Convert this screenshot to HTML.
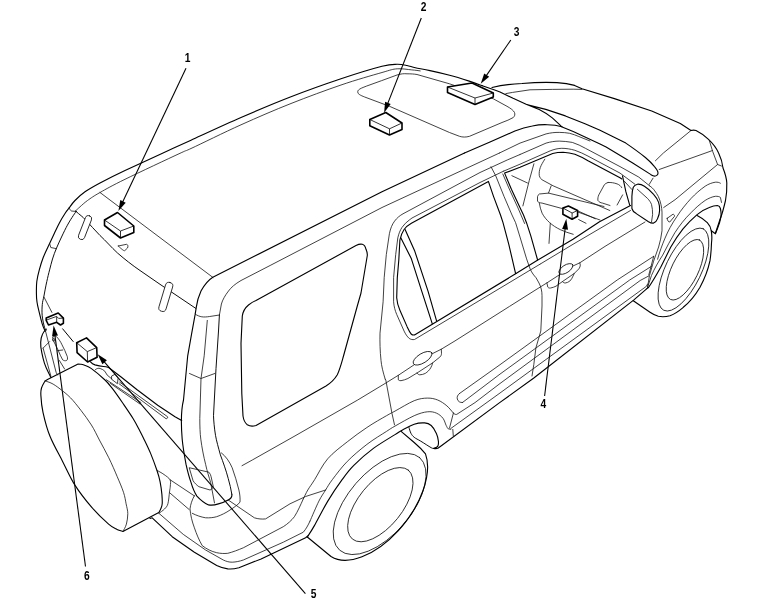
<!DOCTYPE html>
<html><head><meta charset="utf-8"><title>Component locations</title>
<style>
html,body{margin:0;padding:0;background:#fff;}
svg{display:block;position:absolute;left:0;top:0;will-change:transform;}
.k{fill:none;stroke:#000;stroke-width:1.12;stroke-linecap:round;stroke-linejoin:round;}
.m{fill:none;stroke:#000;stroke-width:0.95;stroke-linecap:round;stroke-linejoin:round;}
.t{fill:none;stroke:#111;stroke-width:0.8;stroke-linecap:round;stroke-linejoin:round;}
.b{fill:#fff;stroke:#000;stroke-width:1.6;stroke-linejoin:round;}
.bt{fill:none;stroke:#000;stroke-width:0.8;stroke-linejoin:round;}
.a{fill:none;stroke:#000;stroke-width:1.08;}
.h{fill:#000;stroke:none;}
text{font-family:"Liberation Sans",sans-serif;font-weight:bold;font-size:12.8px;fill:#000;}
</style></head><body>
<svg width="765" height="611" viewBox="0 0 765 611">
<!-- ROOF -->
<g id="roof">
<path class="k" d="M69.5,207.5 C70.4,206.3 72.4,203.1 75.0,200.5 C77.6,197.9 80.8,194.7 85.0,191.8 C89.2,188.9 93.3,186.6 100.0,183.0 C106.7,179.4 114.6,175.4 125.0,170.5 C135.4,165.6 151.5,158.4 162.5,153.3 C173.5,148.2 177.9,146.2 191.0,140.2 C204.1,134.2 224.3,124.7 241.0,117.5 C257.7,110.3 274.3,103.2 291.0,96.8 C307.7,90.3 325.8,83.9 341.0,78.8 C356.2,73.7 372.7,68.7 382.0,66.3 C391.3,63.9 392.8,64.4 397.0,64.3 C401.2,64.2 403.9,64.9 407.0,65.5 C410.1,66.1 411.6,67.0 415.4,67.8 C419.2,68.6 424.3,69.3 430.0,70.6 C435.7,71.8 443.1,73.5 449.6,75.3 C456.1,77.0 463.8,79.4 469.2,81.1 C474.6,82.8 480.1,84.9 482.3,85.7"/>
<path class="t" d="M75.5,211.0 C76.2,210.3 78.0,208.6 80.0,206.8 C82.0,205.1 84.2,202.9 87.5,200.5 C90.8,198.1 93.8,196.0 100.0,192.5 C106.2,189.0 111.7,185.8 125.0,179.3 C138.3,172.8 169.0,158.4 180.0,153.3 C191.0,148.2 180.8,153.2 191.0,148.5 C201.2,143.8 224.3,132.3 241.0,124.8 C257.7,117.3 274.3,110.1 291.0,103.5 C307.7,96.9 325.8,90.2 341.0,85.0 C356.2,79.8 372.6,75.2 382.0,72.5 C391.4,69.8 392.2,69.2 397.2,68.8 C402.2,68.4 408.0,69.6 411.8,69.9 C415.6,70.2 418.8,70.7 420.2,70.9"/>
<path class="t" d="M69.1,207.4 C69.8,209.5 70.5,210.6 71.5,211 L76.5,211.5"/>
<path class="t" d="M100,192.5 L213,277.5"/>
</g>

<!-- REAR -->
<g id="rear">
<path class="k" d="M69.5,207.5 C68.8,208.5 66.7,210.9 65.0,213.5 C63.3,216.1 61.1,219.7 59.4,222.9 C57.6,226.2 56.1,229.6 54.5,233.0 C52.9,236.4 51.5,239.4 49.6,243.5 C47.7,247.6 45.0,252.9 43.3,257.3 C41.6,261.7 40.4,265.9 39.3,269.9 C38.2,273.9 37.3,277.7 36.8,281.5 C36.3,285.3 36.4,289.5 36.4,292.9 C36.4,296.3 36.6,299.1 37.0,302.0 C37.4,304.9 37.8,306.5 38.7,310.1 C39.6,313.7 41.1,320.2 42.2,323.8 C43.3,327.4 44.8,330.2 45.3,331.5"/>
<path class="m" d="M76.2,211.3 C75.5,212.3 73.5,215.2 72.0,217.5 C70.5,219.8 69.1,222.1 67.4,225.2 C65.7,228.3 63.8,232.2 62.0,236.0 C60.2,239.8 58.1,244.3 56.5,248.1 C54.9,251.9 53.6,255.4 52.5,259.0 C51.4,262.6 50.6,266.1 49.6,269.9 C48.6,273.6 47.8,277.1 46.8,281.5 C45.8,285.9 44.6,292.5 43.9,296.3 C43.1,300.1 42.6,301.1 42.3,304.4 C42.0,307.6 41.8,312.0 42.2,315.8 C42.6,319.6 43.8,324.9 44.5,327.3 C45.2,329.7 46.0,329.6 46.3,330.0"/>
<path class="t" d="M49.6,243.5 L50.8,247.5 L56.5,248.7"/>
<path class="t" d="M43.9,296.9 L51.9,312.4"/>
<path class="m" d="M75.5,211 C80,215 83,217 85,219.3 C90,225 95,230 100,235.5 C106,241 111,247 117.5,253 C125,259.5 132,265 140,270.5 L160,284.3 L195.8,308.4"/>
<!-- wipers/stops -->
<rect class="t" x="-3.2" y="-12.6" width="6.4" height="25.2" rx="3.1" transform="translate(85,227.6) rotate(21.3)" style="fill:#fff"/>
<rect class="t" x="-3.7" y="-15" width="7.4" height="30" rx="3.6" transform="translate(165.8,296.9) rotate(16.7)" style="fill:#fff"/>
<path class="t" d="M118.3,246 L126.5,244.3 C128,244.5 128.3,246.5 127.5,248 L124.8,250.6 C124,251 122.5,250 118.3,246 Z"/>
<!-- near roof edge + tailgate pillar -->
<path class="k" d="M464.5,153 L382,191.8 L212.8,277.3 C207,281 203.4,286.7 201,291 C198.7,296 197,302 196.3,307.1 L195.2,314.2 L191.6,333.8 L187.7,355.8 L183.5,400 C181,410 181,425 182.2,439.2 C183,448 184.5,456 186.1,464.7 C187.5,471 189,477 191,482.4 C192.5,487.5 194.5,492.5 196.9,496.1 C200,499.5 204,503 208.6,504.9 C212,505.5 215,505 218.4,503.9 C222,503 225.5,501.5 228.2,500 C231,498.5 232.3,496.5 231.8,494.1"/>
<path class="m" d="M231.8,494.1 C231,489 229.8,484 228.2,478.4 C226,470 223,462 220.4,454.9 C218.5,448 216.5,441 215.5,435.3 C214.3,428 213.7,421 213.5,415.7 L214,406 L216,368.5 L218.5,331 L219.4,315"/>
<path class="t" d="M499.5,153 L382,207.5 L270.1,265.5 L241,280.5 C235,284 231,287.5 228.5,291 C225,295.5 222.5,300 221.4,304 L219.4,315"/>
<path class="t" d="M195.2,314.2 C197.5,315.5 199.5,316.5 201.8,316.8 C204,317.2 207,316.9 209.7,316.5 L219.4,315"/>
<path class="t" d="M207.3,320.4 L204.2,355.8 L201,378.5 L199.8,418.5 C199.8,426 200,433 200.8,439.2 C202,448 203.5,456 205.7,464.7 C207,471 209,477 210.6,482.4 L214.5,502.9"/>
<path class="t" d="M189.5,373.5 L201,378.5 L214.8,373.5"/>
<!-- quarter window -->
<path class="k" d="M256,300.5 L356,245.5 C358.5,244.3 360.5,243.8 362.3,244.3 C364.5,245 365.5,247 366,249.3 C367,251.5 367.5,253.5 367.3,255.5 L361,293 L357.3,306 L343.5,356 C341.5,363 340,369 337.3,374.8 C334.5,379.5 331,383 326,386 L256,425.5 C253,426.5 250,426.5 247.3,424.8 C244.5,422.5 243.5,419.5 243,416 L241.8,393.5 L241,343.5 L242.3,316 C243,311 245.5,307.5 248.5,305 C251,303 253.5,301.5 256,300.5 Z"/>
</g>

<!-- ROOF FRONT / SUNROOF / HOOD -->
<g id="front">
<path class="k" d="M482.3,85.7 L495.4,90.3 L500,92 L513.1,98.3 L526.1,104.2 C528.5,105 530.5,105.6 532.7,106.1 L545.8,109.4 L565.4,115.9 L585,123.8 L600,130.3 L625.8,143.1 C633,148 639.5,152.7 645.4,157.5 C649,160.5 652,163.5 654.5,166.6 C656,168.3 657.2,170 657.8,171.8 C658.2,173.3 658,174.4 657.1,175.1 C656,176 655,176.3 653.9,176 C652.8,175.6 651.8,175.1 650.6,174.4 L632.3,162.7 L606.1,147 L600,144.1 L585,136.9 L573.2,131.6 L562.1,127.1 L558.8,123.8 L552.3,117.9 C548,114.5 544,111.7 539.2,109.4 L526.1,104.2"/>
<path class="k" d="M464.5,153 L490,142.1 L514.9,131 C521,128.5 526,127 532.3,126 C537,125 542,124.5 547.2,124.7 C552,124.8 557,125.3 562.1,126.7"/>
<path class="t" d="M499.5,153 L520,143.1 L546.1,133.9 C550.5,132.8 555,132.3 559.2,132.4 C563,132.4 566.5,132.7 569.7,133.3 C573,134.2 576,135.3 578.8,136.5 L590,141"/>
<path class="t" d="M520,154.5 L546.1,143.1 C550.5,141.8 555,141.1 559.2,141.1 C563.5,141.2 568,141.6 572.3,142.4 C577,144 581.5,146 585.4,148.3 L620,166.6 L638.8,177.1 L649.3,185.6"/>
<!-- sunroof -->
<path class="t" d="M382,80.5 L397,75 C401,73.8 404,73.5 407,73.8 C411,73.8 414,74 417,74.5 L449.5,83.8 L493.3,98.8 L507,106.3 C511,108.5 513.5,110.5 514.5,112.5 C515.2,114.5 514.8,116 513.3,117.5 C510,119.5 506,121 502,122.5 L469.5,136.3 C466,137.3 462.5,137.3 459.5,136.3 L449.5,132.5 L389.5,106.3 L366,97.5 C362,96 358.5,94.5 358,93 C357.5,91.5 357.8,90.8 358.5,90 C360,88.5 363,87.5 366,86.3 Z"/>
<!-- hood far edge -->
<path class="k" d="M492,87.5 C502,85 512,84 522,83.5 C535,82.3 545,82 557,82.6 C565,83 570,84 574.6,85.4 L582,88.7 L614.4,98.6 L651.7,111 L680.3,123.5 L691,130.5"/>
<path class="t" d="M505.8,93.6 C510,92.8 515,92 520,91.3 L530,89.8 L552.3,89.4 L573.2,89.2 L582,89.4"/>
<path class="k" d="M691,130.5 C693,130 695,130.2 696,130.5 C701,133 705,136 708.5,139.3 C713,143.5 716.5,148 718.6,153 C721,158 722.5,163 723,168 C725,173 726.5,178 726.8,183 C727,189 726.5,195 725.5,200.5 C724,207 722.5,213 720.5,218 L715.5,233"/>
<path class="t" d="M691,130.5 L663.4,153 L655.4,160.8"/>
<path class="t" d="M709.4,140.8 L712.7,151.5 L717.6,164.5 L721.5,166"/>
<path class="t" d="M712.3,150.6 L680.3,162 L659.2,169.5"/>
</g>

<!-- BOXES, ARROWS, LABELS -->
<g id="callouts">
<!-- box1 -->
<path class="b" d="M104.5,220 L117.5,212.5 L133.8,226 L133.8,232.5 L120.5,238 L104.5,225.5 Z"/>
<path class="bt" d="M104.5,220 L120.5,231 L133.8,226 M120.5,231 L120.5,238"/>
<!-- box2 -->
<path class="b" d="M369.8,119.5 L385.8,112.5 L402,123 L402,129.5 L389.5,135 L369.8,125.8 Z"/>
<path class="bt" d="M369.8,119.5 L389.5,128.8 L402,123 M389.5,128.8 L389.5,135"/>
<!-- box3 -->
<path class="b" d="M447.5,87 L472,83 L493.3,93 L493.3,97 L475,104.5 L447.5,92.5 Z"/>
<path class="bt" d="M447.5,87 L475,98 L493.3,93 M475,98 L475,104.5"/>
<!-- box4 -->
<path class="b" d="M562.9,208 L568.4,206 L577.6,210.5 L577.6,216.3 L572.1,219.3 L562.9,214.3 Z"/>
<path class="bt" d="M562.9,208 L572.1,213 L577.6,210.5 M572.1,213 L572.1,219.3"/>
<!-- box5 -->
<path class="b" d="M76.7,342.7 L86.5,337.9 L96.7,347.6 L97.1,357.3 L87.6,362 L77.1,352.7 Z"/>
<path class="bt" d="M76.7,342.7 L87.3,351.6 L96.7,347.6 M87.3,351.6 L87.6,362"/>
<!-- box6 -->
<path class="b" d="M46.2,318.1 L58.2,313 L63.4,318.1 L63.4,323.3 L60.5,325 L56.7,322.3 L48.5,325 L46.2,320.4 Z"/>
<path class="bt" d="M46.6,320 L56.6,316.4 L58.6,318.4 L63.4,318.1 M56.7,316.6 L56.7,322.3"/>
<!-- arrows -->
<path class="a" d="M186,68.3 L121.0,205.5"/>
<path class="h" d="M118.4,211.0 L120.3,200.1 L125.7,202.7 Z"/>
<path class="a" d="M421.3,18 L386.3,107.1"/>
<path class="h" d="M384.1,112.7 L385.1,101.7 L390.7,103.9 Z"/>
<path class="a" d="M510.8,40 L484.1,78.9"/>
<path class="h" d="M480.7,83.8 L484.2,73.4 L489.2,76.8 Z"/>
<path class="a" d="M544.6,396 L565.6,224.8"/>
<path class="h" d="M566.3,218.8 L568.0,229.7 L562.1,229.0 Z"/>
<path class="a" d="M305.4,593.7 L101.7,358.8"/>
<path class="h" d="M97.7,354.3 L106.9,360.3 L102.4,364.3 Z"/>
<path class="a" d="M85.5,566.5 L54.4,331.4"/>
<path class="h" d="M53.6,325.4 L58.0,335.5 L52.1,336.3 Z"/>
<path class="a" d="M62.4,328.5 L73.4,341.8" style="stroke-width:1"/>
<text transform="translate(187.6,61.6) scale(0.8,1)" text-anchor="middle">1</text>
<text transform="translate(423.6,10.8) scale(0.8,1)" text-anchor="middle">2</text>
<text transform="translate(516.5,36.3) scale(0.8,1)" text-anchor="middle">3</text>
<text transform="translate(543.3,407.5) scale(0.8,1)" text-anchor="middle">4</text>
<text transform="translate(313.5,597.6) scale(0.8,1)" text-anchor="middle">5</text>
<text transform="translate(86.8,579.8) scale(0.8,1)" text-anchor="middle">6</text>
</g>

<!-- SIDE BODY / DOORS -->
<g id="side">
<!-- door outer frame thin (line 3) -->
<path class="t" d="M385.2,379.2 C383,372 381.5,366 381,360.4 C380,351 379.8,342 380,333.2 L383.1,301.8 L384.2,277.6 L386.3,254.6 L389.4,233.7 C390.5,228.5 392,224.5 394.6,221.1 C397,217.8 400,215.5 403,213.8 L480,172.5 L507.2,160 L520,154.5"/>
<path class="t" d="M385.2,379.2 L385.8,380 L392,413.5 L394.5,424.8"/>
<!-- rear door frame outer thin -->
<path class="t" d="M540,264.2 L414.5,339.5 C412.5,339.8 411,339.5 409.3,338.5 C407,336.5 405.5,334 404.1,331.1 L396.7,314.4 C395,310.5 394,306.5 393.6,301.8 L393.6,277.6 L395.7,254.6 L397.8,237.9 C398.8,233.5 400,230.5 402,227.4 C404,224.5 406.5,222 409.3,220 L412,218 L480,182.5 L503.7,171.1"/>
<!-- rear door window thick -->
<path class="k" d="M516,273.6 L414.5,334.9 C413.3,335.2 412.3,335 411.4,334.3 C409.8,332.2 408.5,329.7 407.2,326.9 L399.9,310.2 C398,306 397,302 396.7,297.7 L397.3,277.6 L398.8,260 L399.9,240 C400.8,235.8 402,232.5 404.1,229.5 C406,226.8 408.5,224.8 411.4,223.2 L488.4,181.4 L493.6,196.6 L500.5,215 L503,222.7 L508.8,244.3 L515.6,273.6"/>
<path class="k" d="M400.9,237.9 L411.4,258.8 L421.8,291.4 L432.3,323.8"/>
<path class="k" d="M405.1,229.5 L414.5,250.4 L428.1,291.4 L436.5,320.7"/>
<!-- B pillar -->
<path class="t" d="M491,166.8 L495.7,175.7 L504.1,196.6 L512,215 L515.6,222.7 L520.3,238 L526.6,258.9 L530.3,269.4 C532,273 534,275.5 536,277.7 L539,283 C541,287 542,291 542,295.5 L542,306 L540.8,331 L535.9,347.9 L533.8,364.6 L532,376"/>
<!-- beltline -->
<path class="k" d="M516,273.6 L537,260.5 L573,239.3 L599.5,221.7 L630.5,205.6"/>
<path class="t" d="M540,264.2 L573,244.3 L630.5,210.5"/>
<!-- crease -->
<path class="t" d="M242,465.7 L252.3,460 L295,435.9 L357.7,400 L385,383.5 L398.3,375.3 L414.3,364.7 M432.1,353.8 L441.3,349.2 L455,340.9 L509.5,306.4 L535,290.3 L546.9,282.9 L560.2,274.3 M573,266 L579.8,262.8 L605,246.4 L645,222"/>
<!-- front door window thick -->
<path class="k" d="M537.6,260 L530.8,235.9 L526.5,222.7 L523.5,215 L519.7,207.1 L511.4,189.3 L504.6,173.1 L520,167.3 L552.7,153.5 C556,152.6 559.5,152.2 563.1,152.2 C567,152.4 571,153 574.9,154.2 C579.5,156 584,158.2 588,160.7 L620,177.7 L621.8,179"/>
<path class="k" d="M622.5,175.8 L625.8,191.4 L629.7,205.2"/>
<path class="t" d="M502.8,174 L509.8,190.2 L518,208 L524.6,223.5"/>
<!-- rear door handle -->
<path class="t" d="M398.3,375.3 L398.3,379.8 C399,380.5 400,380.8 401,380.7 C403.5,380.3 405.5,379.5 407.9,378.5 L417,373 L432.6,362.9 L439.9,357 C441,356 441.5,354.8 441.5,353.3 L441.3,349.2"/>
<ellipse class="t" cx="422.6" cy="358.2" rx="10.7" ry="4.7" transform="rotate(-31.5 422.6 358.2)"/>
<path class="t" d="M417,373 C418,374.5 419,374.8 419.8,374.8 C421.5,374.8 423.5,374.3 425.3,373.4 C427.5,372 429.5,370 430.7,367.9 C431.7,366.3 432.3,364.5 432.6,362.9"/>
<!-- molding -->
<path class="t" d="M459.5,393.5 L500,364.7 L617.2,280 L653.7,256.3 M462.5,402.5 L500,374.1 L629.7,280 L651.8,266.1 M459.5,393.5 C457.5,395 456.8,397 457.3,399 C458,401.5 460,402.8 462.5,402.5"/>
<path class="t" d="M453.4,413.1 C454.5,414.3 455.5,414.6 456.7,414.4 L475,402.6 L500,383.5 L640.2,280.5 L648.8,275.9"/>
<path class="t" d="M450.8,428.5 L500,393 L646.4,286.3 L647.6,284"/>
<path class="k" d="M433.8,448.4 C435.5,448.9 437,448.7 438.3,448 L500,402.4 L533.5,378.3 L633.9,299.9 L646.9,288.6"/>
<path class="t" d="M452.8,429.4 L453.3,436"/>
</g>

<!-- WHEELS / ARCHES -->
<g id="wheels">
<!-- rear wheel -->
<ellipse class="t" cx="379.7" cy="503.9" rx="61.2" ry="31.4" transform="rotate(-49.2 379.7 503.9)"/>
<ellipse class="t" cx="380.4" cy="504.6" rx="44.4" ry="22" transform="rotate(-51 380.4 504.6)"/>
<path class="k" d="M401.1,431.4 L414.2,442.5 C418,445.7 421.5,449 425.5,453.9 A71.6,39.6 -51.7 0 1 331,556.5 L307.3,537"/>
<!-- rear arch -->
<path class="t" d="M303.3,498.9 C304.1,497.4 305.9,493.2 307.8,490.0 C309.7,486.8 311.3,484.9 314.6,479.7 C317.9,474.5 322.2,465.1 327.7,458.8 C333.1,452.5 340.8,447.0 347.3,441.8 C353.8,436.6 360.4,431.9 366.9,427.5 C373.4,423.1 381.8,418.4 386.5,415.7 C391.2,413.0 390.4,413.6 395.0,411.1 C399.6,408.6 408.8,402.9 414.2,400.7 C419.6,398.5 423.4,398.2 427.3,398.1 C431.2,398.0 434.4,398.7 437.7,400.0 C441.0,401.3 444.3,403.7 446.9,405.9 C449.5,408.1 452.3,411.9 453.4,413.1"/>
<path class="t" d="M310.0,521.1 C311.5,517.8 316.3,506.3 318.9,501.1 C321.5,495.9 323.4,493.6 325.6,490.0 C327.8,486.4 328.7,484.5 332.3,479.7 C335.9,474.9 341.5,467.3 347.3,461.4 C353.1,455.5 360.4,449.4 366.9,444.4 C373.4,439.4 381.8,434.4 386.5,431.4 C391.2,428.3 390.4,428.7 395.0,426.1 C399.6,423.5 408.8,418.1 414.2,415.7 C419.6,413.3 423.6,412.2 427.3,411.8 C431.0,411.4 433.8,412.0 436.4,413.1 C439.0,414.2 441.4,416.2 443.0,418.3 C444.6,420.4 445.3,423.8 446.2,425.5 C447.1,427.2 447.4,428.2 448.2,428.8 C449.0,429.4 450.4,429.1 450.8,429.2"/>
<path class="t" d="M449.5,428.1 L453.4,413.1"/>
<path class="k" d="M307.3,537.0 C308.5,535.1 311.0,531.6 314.4,525.6 C317.8,519.6 323.2,508.8 327.8,501.1 C332.4,493.5 337.8,485.6 342.1,479.7 C346.4,473.8 348.6,470.6 353.8,465.4 C359.0,460.2 366.5,453.5 373.4,448.4 C380.3,443.3 390.4,437.5 395.0,434.6 C399.6,431.7 397.9,432.5 401.1,430.8 C404.3,429.1 410.3,425.5 414.2,424.2 C418.1,422.9 421.9,422.7 424.7,422.9 C427.5,423.1 429.2,423.8 431.2,425.5 C433.1,427.2 435.2,430.8 436.4,433.4 C437.6,436.0 438.2,439.0 438.4,441.2 C438.6,443.4 438.5,445.2 437.7,446.4 C436.9,447.6 434.4,448.1 433.8,448.4"/>
<path class="m" d="M409.0,427.5 C409.3,428.5 410.1,431.8 411.0,433.4 C411.9,435.0 412.6,436.0 414.2,437.3 C415.8,438.6 418.0,439.5 420.8,441.2 C423.6,442.9 429.0,446.5 431.2,447.7 C433.4,448.9 433.4,448.3 433.8,448.4"/>
<!-- front wheel -->
<ellipse class="t" cx="683.5" cy="269.5" rx="45.3" ry="17.9" transform="rotate(-64.2 683.5 269.5)"/>
<ellipse class="t" cx="685" cy="269.7" rx="33.1" ry="13.3" transform="rotate(-64 685 269.7)"/>
<path class="k" d="M697.1,215.6 C701,217.5 704.5,220 707.3,222.7 C709.5,225 710.8,227.8 711.3,230.8 C712,235 712,239 711.5,243 C711.3,249 710.8,255 710,260.7 C708,270 704.5,279 700,287.3 C695.5,295 690,302 683.3,307.3 C679,311 674.5,314 670,315.7 C666,316.8 662,317 658.3,316.3 C655,315.5 652.5,314 650,312.3 L633.3,300.7"/>
<!-- front arch -->
<path class="t" d="M657.6,259.2 C659.5,252 662,245.5 664.7,238.9 C668,231 672,223.5 676.9,216.6 C681,210 686,204 691.1,198.4 C695.5,193.8 700,189.8 705.2,186.2 C708.5,184 712,182.7 715.4,182.2 C717.5,182 719.3,182.5 720.4,183.2"/>
<path class="t" d="M647.5,287.5 L651.5,275.4 C654.5,268.5 658.5,261.5 662.7,255.1 C666.5,247.5 670.5,240 674.8,232.8 C679.5,225.5 685,218.5 691.1,212.6 C695.5,208 700,204 705.2,200.4 C708.5,198.3 712,196.8 715.4,196.3 C717.5,196.2 719.3,196.5 720.4,197.4 L721.5,202.4"/>
<path class="k" d="M646.9,288.6 L648.5,287.5 C653,281 657,274 660.7,267.3 L670.8,247 C674.5,240.5 678.5,234.5 683,228.8 C687.5,223.5 692,219 697.1,214.6 C701,211.5 705,209 709.3,207.5 C712,206.3 714.8,205.5 717.4,205.5 C719,205.8 720,207 720.4,208.5 C721,211 721.2,213.8 721,216.6 C720.2,220.8 719,225 717.4,228.8 L715.4,233.8 L711.3,230.8"/>
</g>

<!-- SPARE TIRE / BUMPER / TAIL -->
<g id="rearlow">
<path class="k" d="M122.9,531.5 C121.9,531.1 119.4,530.6 117.0,529.4 C114.6,528.2 112.8,527.8 108.6,524.1 C104.4,520.4 97.4,513.9 91.8,507.4 C86.2,500.9 80.0,493.1 75.1,485.4 C70.2,477.7 66.8,469.6 62.6,461.4 C58.4,453.2 53.3,444.5 50.0,436.3 C46.7,428.1 44.5,419.1 43.0,412.3 C41.5,405.5 41.1,399.7 40.9,395.6 C40.6,391.6 40.8,390.4 41.5,388.0 C42.2,385.6 44.5,382.1 45.1,380.9 L47.5,379.5 L78.1,364.1 C78.5,364.1 79.7,364.1 80.7,364.2 C81.7,364.3 82.3,364.3 84.0,365.0 C85.7,365.7 87.6,365.9 91.1,368.4 C94.6,370.9 101.5,376.7 105.0,380.0 C108.5,383.3 109.3,384.6 112.3,388.4 C115.2,392.2 119.2,397.9 122.7,403.0 C126.2,408.1 130.3,414.0 133.2,418.7 C136.1,423.4 138.1,427.6 140.0,431.2 C141.9,434.8 142.6,436.3 144.4,440.0 C146.2,443.7 148.6,448.6 150.7,453.6 C152.8,458.7 155.3,465.6 156.9,470.3 C158.5,475.0 159.3,477.8 160.1,481.8 C160.9,485.8 161.6,490.7 161.9,494.4 C162.2,498.1 162.4,501.4 162.2,503.8 C162.0,506.2 161.5,507.0 160.9,508.5 C160.3,510.0 159.2,511.9 158.8,512.6 L122.9,531.5"/>
<path class="t" d="M45.1,380.9 C46.2,381.3 49.5,382.2 52.0,383.5 C54.5,384.8 56.9,386.5 60.0,388.9 C63.1,391.3 67.0,394.2 70.5,397.8 C74.0,401.4 77.4,405.8 80.9,410.3 C84.4,414.8 88.3,420.1 91.4,425.0 C94.5,429.9 96.5,434.5 99.4,440.0 C102.3,445.5 105.8,451.7 108.8,457.8 C111.8,463.9 114.8,470.9 117.2,476.6 C119.7,482.4 122.0,487.8 123.5,492.3 C125.0,496.8 125.4,500.2 126.1,503.8 C126.8,507.4 127.8,510.3 127.8,513.7 C127.8,517.1 127.2,521.1 126.4,524.1 C125.6,527.1 123.5,530.3 122.9,531.5"/>
<!-- curve right of tread -->
<path class="t" d="M156.9,470.3 C158.1,471.0 161.8,472.9 164.0,474.5 C166.2,476.1 168.9,477.8 170.0,479.7 C171.1,481.6 170.4,483.9 170.3,486.0 C170.2,488.1 169.9,489.0 169.5,492.0 C169.1,495.0 168.7,501.0 167.9,503.8 C167.1,506.6 166.0,507.4 164.5,509.0 C163.0,510.6 159.8,512.6 158.9,513.3"/>
<path class="t" d="M170,479.7 L194.4,495.9 M169.7,492.8 L189.1,509.5"/>
<!-- bumper -->
<path class="k" d="M150,518.5 L152.2,517.8 L172.2,536.7 L194.4,552.2 L216.7,565.6 C220.5,567.5 224,568.5 227.8,568.9 C231.5,569.2 235,568.8 238.9,567.8 L261.1,558.9 L305.6,537.8 L308.2,535.6"/>
<path class="t" d="M158.9,513.3 L183.3,534.4 L205.6,550 L223.3,560 C226.5,561.5 229,562.2 232.2,562.2 C236,562 239.5,561.3 243.3,560 L283.3,542.2 L303.3,532.2 C306,529 308,525.5 310,521.1"/>
<path class="t" d="M194.4,495.6 C192,500 190.5,504.5 190,508.9 C190.5,515 192,521.5 194.4,527.8 C196.5,534 199,540 202.2,545.6 C206.5,549 211.5,551.5 216.7,552.7 C220.5,553.5 224,553.7 227.8,553.3 C233,552 238,550 243.3,547.8 L283.3,526.7 C287.5,524 291.5,520.5 294.4,516.7 C298,511 300.5,505 303.3,498.9"/>
<path class="t" d="M192.2,513.3 C196.5,515.5 201,517 205.6,517.8 C209.5,518 213,517.7 216.7,516.7 C221.5,515 226,512.8 230,510 C234,507.5 237.5,505 240,502.2 C240.3,498 239.8,494 238.9,490 C237,482.5 234.8,475 232.2,467.8 C229.5,461.5 225.5,456 221.4,452.9"/>
<path class="t" d="M228.2,500 L254.4,517.8 C258,519 262,519.3 265.6,518.9 L290,503.8 L305.6,496.5 L325.6,490"/>
<!-- reflector -->
<path class="t" d="M189.6,467.8 L208.9,472.2 C210,473.5 210.8,475 211.1,476.7 L213.3,486.7 C212.5,488.5 211.5,489.5 210,490 L198.9,486.7 C196.5,485 194.5,483 193.3,481.1 Z"/>
<!-- rear window bottom + wiper -->
<path class="k" d="M181.7,420.5 L175,416.7 L157.7,405.2 L136.8,389.5 L121.1,377 L108.6,367.5 C106.5,366.8 105,366.6 103.4,366.5 C100.5,366.3 98,365.8 95,364.9 C93,364.2 91.5,363 90.5,361.8"/>
</g>

<!-- TAIL LIGHT / WIPER -->
<g id="tail">
<path class="k" d="M46.3,329.2 C44.5,330.8 43.2,332.5 42.4,334.4 C41.2,337 40.7,339.5 40.7,342.2 C40.5,345.7 41,349.2 41.8,352.7 C42.5,356.2 43.3,359.7 44.4,363.1 C45.5,366.3 46.8,369.3 48.3,372.3 L50.9,377.5"/>
<path class="t" d="M45.7,331.8 L56.1,372.3 L57.5,375"/>
<path class="t" d="M43.1,348.1 L50.9,376.2"/>
<path class="t" d="M43.1,348.1 L49.6,341.6"/>
<path class="t" d="M52.9,337 C54,336 55.2,335.9 56.1,336.3 C58.5,338.5 60.5,341.5 62,344.8 C64,348.5 65.8,352.5 67.3,356.6 C67.8,358.5 67.5,359.8 66.6,360.5 C65.3,361 64,360.7 62.7,359.9 C61,357 59.5,353.5 58.1,350.1 C56.5,347 55,344 53.5,340.9 C52.8,339.5 52.6,338 52.9,337 Z"/>
<path class="t" d="M57.6,350.6 L62.7,350"/>
<path class="t" d="M59.4,360.5 L64.6,369"/>
<circle class="t" cx="53.8" cy="339.8" r="1.3"/>
<!-- wiper -->
<path class="t" d="M95.4,369.6 C97,368.3 98.5,368 100.1,368.5 C102,369 103.5,370 104.8,371.2 L107.2,375.1 L111.9,379"/>
<path class="t" d="M111.9,375.9 L115,374.3 L118.1,378.2 L117.4,383.7 L111.9,379.5 Z"/>
<path class="t" d="M106.4,379.8 L140.9,402.5 M110.5,383.5 L140,404"/>
<path class="t" d="M119.7,382.2 L167.5,416.7 C168,417.7 167.3,418.8 166,418.7 L119,383.7"/>
</g>

<!-- MIRROR / INTERIOR / FENDER DETAILS -->
<g id="detail">
<!-- mirror -->
<path class="k" d="M637.4,184.2 C635.5,184.8 634,186 633.3,187.2 C632.3,190 632,193 631.9,196.3 L631.9,208.5 C632.5,210.8 634,212.5 636.3,213.6 L648.5,221.7 C650.3,222.8 652,223.3 653.6,223.1 C655.5,222.3 656.8,220.7 657.6,218.6 C658.8,216 659.5,213.3 659.6,210.5 C659.8,207.7 659.5,205 658.6,202.4 C657.5,199.3 655.8,196.7 653.6,194.3 C651,191.2 648,188.5 644.4,186.2 C642.5,185 640,184 637.4,184.2 Z" style="fill:#fff"/>
<path class="t" d="M637.4,189.3 L647.5,198.4 C649.3,200.3 650.7,202.3 651.5,204.4 C652.3,207.7 652.7,211 652.6,214.6 L651.5,222"/>
<path class="t" d="M624.2,181.1 L631.9,189.5"/>
<!-- window frame outer thin (front door) -->
<path class="t" d="M503.7,171.1 L520,164.2 L550.1,150.9 C554,149.3 558,148.4 561.8,148.3 C566,148.3 570.5,149 574.9,150.3 C579.5,152 584,153.8 588,156.1 L620,173.1 L634.9,184.2"/>
<!-- fender -->
<path class="t" d="M649.3,185.6 C652,187.5 653.5,189 654.2,190.1 C656,192.5 657.3,194.5 658.3,196.4 C659.5,199 660.4,201.8 661,204.7 C661.6,207.2 661.9,209.7 662,212.1 L662,230.8 C661.2,236.5 660.2,242 658.6,247 L653.6,261.2 L649.5,275.4 L647.5,287.5"/>
<path class="t" d="M717.6,164.5 L675.1,199.7 L663.7,207.5"/>
<path class="t" d="M667.2,218.3 L673,214.2 C674,214.3 674.6,215.2 674.5,216.3 L669.8,222 C668.5,222.3 667.3,220.5 667.2,218.3 Z"/>
<path class="t" d="M653,178.2 L649.2,184.4"/>
<path class="t" d="M653.7,256.3 L648.8,274.9"/>
<!-- interior -->
<path class="t" d="M544.8,159.2 C543,162 541.3,164.8 540.3,167.5 C539.3,170.5 539,173 539.3,175.7 C540,178 541.2,179.5 543,180.3 L553.1,185.8 L609.8,210.5"/>
<path class="t" d="M551.2,185.8 L548.5,193.1 L539.3,194 C538.3,194.7 537.7,195.6 537.5,196.7 L537.5,201.3 C538.5,202.3 540,202.9 542.1,203.1 L562,208.5"/>
<path class="t" d="M542,195.5 L608,208.5" style="display:none"/>
<path class="t" d="M548.5,193.1 L604,206.5 M577.8,212 L600,220"/>
<path class="t" d="M539.3,203.1 C539.8,206.5 540.8,210 542.1,213.2 C544,216.8 546.5,219.8 549.4,222.4 C552.5,225.3 556.2,227.7 560.4,229.7 C564.5,231.5 568.8,233.2 573.2,234.3"/>
<path class="t" d="M550.3,223.3 L549,243.4"/>
<path class="t" d="M576.9,210.5 L595.2,218.7 M578.7,219.6 L586,223.3"/>
<path class="t" d="M533.9,163.8 L529.3,180.3 L522.9,205.9"/>
<path class="t" d="M511.9,175.7 L527.5,183"/>
<path class="t" d="M608,182.5 C611,182.3 614,182.8 617.1,183.9 C619.3,184.7 620.8,186 621.7,187.6 M608,182.5 C606.5,183 605.2,183.8 604.3,184.8 L598.8,194.9 C598,196.8 597.7,198.6 597.9,200.4 C599,202 600.5,202.8 602.5,203.1 L610,205.5"/>
<path class="t" d="M617.1,205 L622.6,194.9"/>
<!-- B pillar inner lines -->
<path class="t" d="M504.6,172.9 L509.2,200.4 L520.1,231.5 L527,252" style="display:none"/>
<!-- front door handle -->
<path class="t" d="M546.9,282.9 L547.8,287.1 C548.5,288 549.5,288.2 550.6,288 C552.5,287.6 554.3,287 556,286.2 L562.4,281.6 L574.3,273.4 L578.9,268.8 C579.8,267.6 580.3,266.4 580.3,265.1 L579.8,262.8"/>
<ellipse class="t" cx="565.9" cy="268.9" rx="8" ry="3.8" transform="rotate(-33 565.9 268.9)"/>
<path class="t" d="M562.4,281.6 C563.3,282.6 564.2,283 565.2,283 C566.8,282.8 568.4,282.2 569.8,281.1 C571.2,279.7 572.3,278 573,276.1 L574.3,273.4"/>
</g>
</svg>
</body></html>
